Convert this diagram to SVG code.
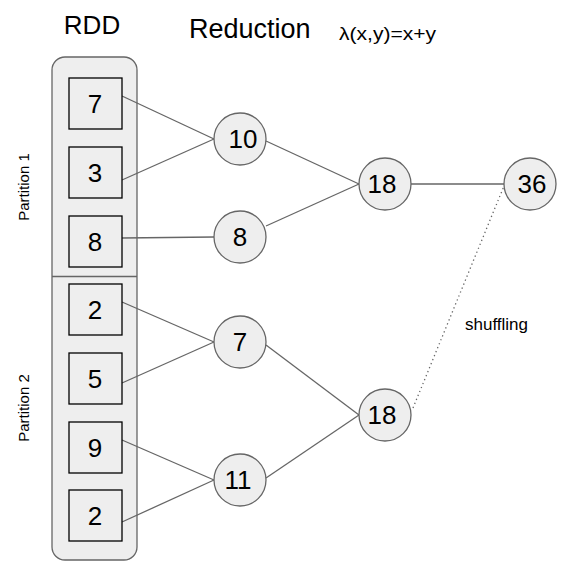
<svg xmlns="http://www.w3.org/2000/svg" width="569" height="574" viewBox="0 0 569 574">
<style>
text{font-family:"Liberation Sans",Arial,sans-serif;fill:#000}
.box{fill:#eeeeee;stroke:#000;stroke-width:1.3}
.node{fill:#eeeeee;stroke:#666;stroke-width:1.3}
.num{font-size:26px;text-anchor:middle}
.cnum{font-size:26px;text-anchor:middle}
.edge{stroke:#666;stroke-width:1.3;fill:none}
.title{font-size:26px}
.small{font-size:15px}
</style>
<rect width="569" height="574" fill="#fff"/>
<text class="title" x="92" y="34" text-anchor="middle">RDD</text>
<text class="title" x="189" y="38" style="font-size:27px">Reduction</text>
<text x="339" y="40" style="font-size:19px" textLength="97" lengthAdjust="spacingAndGlyphs">λ(x,y)=x+y</text>
<g id="rdd">
<rect x="52" y="57" width="85" height="503" rx="13" fill="#eeeeee" stroke="#666" stroke-width="1.3"/>
<line x1="52" y1="276.5" x2="137" y2="276.5" stroke="#666" stroke-width="1.3"/>
</g>
<text class="small" transform="translate(29,187) rotate(-90)" text-anchor="middle">Partition 1</text>
<text class="small" transform="translate(29,408) rotate(-90)" text-anchor="middle">Partition 2</text>
<g id="connectors">
<line class="edge" x1="122" y1="96" x2="214" y2="139"/>
<line class="edge" x1="122" y1="180" x2="214" y2="139"/>
<line class="edge" x1="122" y1="238" x2="214" y2="237"/>
<line class="edge" x1="266" y1="141" x2="359" y2="184"/>
<line class="edge" x1="266" y1="226" x2="359" y2="184"/>
<line class="edge" x1="411" y1="184" x2="504" y2="184"/>
<line class="edge" x1="122" y1="302" x2="214" y2="342"/>
<line class="edge" x1="122" y1="383" x2="214" y2="342"/>
<line class="edge" x1="122" y1="440" x2="214" y2="480"/>
<line class="edge" x1="122" y1="522" x2="214" y2="480"/>
<line class="edge" x1="266" y1="345" x2="359" y2="415"/>
<line class="edge" x1="266" y1="478" x2="359" y2="415"/>
<line class="edge" x1="413" y1="408" x2="504" y2="186" stroke-dasharray="1.3 3"/>
</g>
<g id="b1"><rect class="box" x="69" y="78" width="53" height="51"/><text class="num" x="95" y="113">7</text></g>
<g id="b2"><rect class="box" x="69" y="147" width="53" height="51"/><text class="num" x="95" y="182">3</text></g>
<g id="b3"><rect class="box" x="69" y="216" width="53" height="51"/><text class="num" x="95" y="251">8</text></g>
<g id="b4"><rect class="box" x="69" y="284" width="53" height="51"/><text class="num" x="95" y="319">2</text></g>
<g id="b5"><rect class="box" x="69" y="353" width="53" height="51"/><text class="num" x="95" y="388">5</text></g>
<g id="b6"><rect class="box" x="69" y="422" width="53" height="51"/><text class="num" x="95" y="457">9</text></g>
<g id="b7"><rect class="box" x="69" y="490" width="53" height="51"/><text class="num" x="95" y="525">2</text></g>
<g id="c10"><circle class="node" cx="240" cy="139" r="26"/><text class="cnum" x="243" y="148">10</text></g>
<g id="c8"><circle class="node" cx="240" cy="237" r="26"/><text class="cnum" x="240" y="246">8</text></g>
<g id="c18a"><circle class="node" cx="385" cy="184" r="26"/><text class="cnum" x="382" y="193">18</text></g>
<g id="c36"><circle class="node" cx="530" cy="184" r="26"/><text class="cnum" x="532" y="193">36</text></g>
<g id="c7"><circle class="node" cx="240" cy="342" r="26"/><text class="cnum" x="240" y="351">7</text></g>
<g id="c11"><circle class="node" cx="240" cy="480" r="26"/><text class="cnum" x="238" y="489">11</text></g>
<g id="c18b"><circle class="node" cx="385" cy="415" r="26"/><text class="cnum" x="382" y="424">18</text></g>
<text x="465" y="330" style="font-size:17px">shuffling</text>
</svg>
